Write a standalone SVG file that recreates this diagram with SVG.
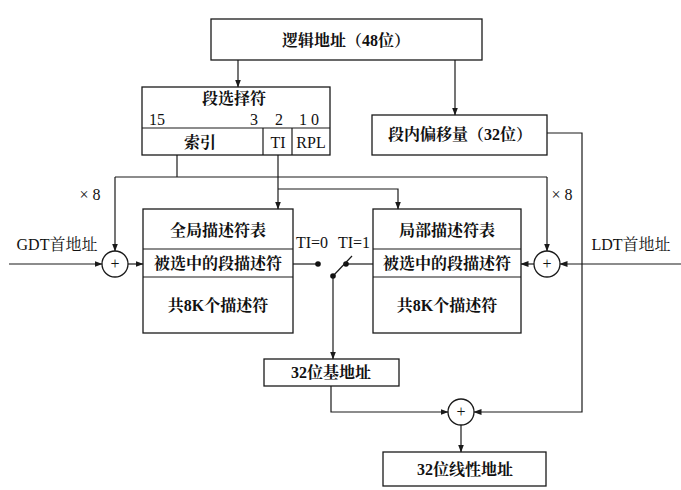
<svg xmlns="http://www.w3.org/2000/svg" width="681" height="490" viewBox="0 0 681 490">
<defs>
<marker id="ah" markerWidth="8" markerHeight="6" refX="7.5" refY="3" orient="auto" markerUnits="userSpaceOnUse">
<path d="M0,0 L8,3 L0,6 Z" fill="#1a1a1a"/>
</marker>
</defs>
<style>
.box{fill:#fff;stroke:#1a1a1a;stroke-width:1.3}
.ln{fill:none;stroke:#1a1a1a;stroke-width:1.2}
.arr{fill:none;stroke:#1a1a1a;stroke-width:1.2;marker-end:url(#ah)}
.t{font-family:"Liberation Serif","Noto Serif CJK SC","Noto Sans CJK SC",serif;font-size:16px;fill:#111;text-anchor:middle}
.l{font-family:"Liberation Serif",serif;font-size:16px;fill:#111;text-anchor:middle}
.dot{fill:#111}
</style>
<rect width="681" height="490" fill="#fff"/>

<g id="logical">
<rect class="box" x="211" y="19" width="271" height="41"/>
<text class="t" x="346" y="46" font-weight="bold">逻辑地址（48位）</text>
</g>

<g id="selector">
<rect class="box" x="142" y="87" width="188" height="68"/>
<line class="ln" x1="142" y1="128" x2="330" y2="128"/>
<line class="ln" x1="263" y1="128" x2="263" y2="155"/>
<line class="ln" x1="292" y1="128" x2="292" y2="155"/>
<text class="t" x="234" y="104" font-size="15" font-weight="bold">段选择符</text>
<text class="l" x="157" y="125" font-size="15">15</text>
<text class="l" x="254" y="125" font-size="15">3</text>
<text class="l" x="279" y="125" font-size="15">2</text>
<text class="l" x="309" y="125" font-size="15">1 0</text>
<text class="t" x="200" y="148" font-weight="bold">索引</text>
<text class="l" x="278" y="148">TI</text>
<text class="l" x="311" y="148">RPL</text>
</g>

<g id="offset">
<rect class="box" x="372" y="115" width="175" height="40"/>
<text class="t" x="460" y="140" font-weight="bold">段内偏移量（32位）</text>
</g>

<g id="gdt">
<rect class="box" x="143" y="209" width="150" height="124"/>
<line class="ln" x1="143" y1="249" x2="293" y2="249"/>
<line class="ln" x1="143" y1="277" x2="293" y2="277"/>
<text class="t" x="218" y="236" font-weight="bold">全局描述符表</text>
<text class="t" x="218" y="269" font-weight="bold">被选中的段描述符</text>
<text class="t" x="218" y="311" font-weight="bold">共8K个描述符</text>
</g>

<g id="ldt">
<rect class="box" x="373" y="209" width="148" height="124"/>
<line class="ln" x1="373" y1="249" x2="521" y2="249"/>
<line class="ln" x1="373" y1="277" x2="521" y2="277"/>
<text class="t" x="447" y="236" font-weight="bold">局部描述符表</text>
<text class="t" x="447" y="269" font-weight="bold">被选中的段描述符</text>
<text class="t" x="447" y="311" font-weight="bold">共8K个描述符</text>
</g>

<g id="adderG">
<circle class="box" cx="115" cy="264" r="13"/>
<text class="l" x="115" y="269" font-size="14">+</text>
</g>

<g id="adderL">
<circle class="box" cx="547" cy="264" r="13"/>
<text class="l" x="547" y="269" font-size="14">+</text>
</g>

<g id="base">
<rect class="box" x="264" y="359" width="135" height="27"/>
<text class="t" x="331" y="378" font-weight="bold">32位基地址</text>
</g>

<g id="adderF">
<circle class="box" cx="461" cy="412" r="13"/>
<text class="l" x="461" y="417" font-size="14">+</text>
</g>

<g id="linear">
<rect class="box" x="383" y="452" width="163" height="34"/>
<text class="t" x="465" y="475" font-weight="bold">32位线性地址</text>
</g>

<g id="labels">
<text class="l" x="90" y="200">× 8</text>
<text class="l" x="562" y="200">× 8</text>
<text class="t" x="57" y="250">GDT首地址</text>
<text class="t" x="631" y="250">LDT首地址</text>
<text class="l" x="312" y="248">TI=0</text>
<text class="l" x="354" y="248">TI=1</text>
</g>

<g id="connectors">
<path class="arr" d="M238,60 V87"/>
<path class="arr" d="M455,60 V115"/>
<path class="ln" d="M177,155 V177"/>
<path class="ln" d="M115,177 H547"/>
<path class="arr" d="M115,177 V251"/>
<path class="arr" d="M547,177 V251"/>
<path class="arr" d="M278,155 V209"/>
<path class="arr" d="M278,189 H398 V209"/>
<path class="arr" d="M9,264 H102"/>
<path class="arr" d="M128,264 H143"/>
<path class="ln" d="M293,264 H318"/>
<circle class="dot" cx="318" cy="264" r="2.8"/>
<path class="arr" d="M681,264 H560"/>
<path class="arr" d="M534,264 H521"/>
<path class="ln" d="M373,264 H346"/>
<circle class="dot" cx="346" cy="264" r="2.8"/>
<path class="ln" d="M333,276 L352,256"/>
<circle class="dot" cx="333" cy="276" r="2.8"/>
<path class="arr" d="M333,276 V359"/>
<path class="arr" d="M331,386 V412 H448"/>
<path class="arr" d="M547,133 H582 V412 H474"/>
<path class="arr" d="M461,425 V452"/>
</g>
</svg>
